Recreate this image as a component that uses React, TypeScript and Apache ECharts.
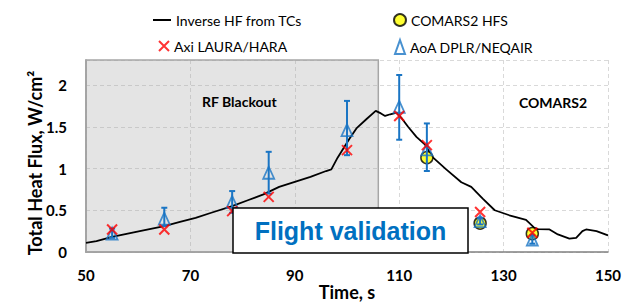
import React, { useEffect, useRef } from "react";
import * as echarts from "echarts";

const lineX = [50, 52, 55, 58, 61, 65, 68, 71, 74, 78, 81, 84, 87, 90, 93, 96, 97, 98.2, 99.3, 100.5, 101.8, 103.7, 105.5, 106.5, 107.3, 108.3, 109.5, 110.5, 111.7, 113.3, 114.9, 116.5, 119, 121.9, 123.8, 126, 128.3, 131.1, 134.3, 135.9, 136.6, 138.8, 140.4, 142.6, 143.9, 145.1, 145.8, 147.8, 150];
const lineY = [0.11, 0.13, 0.18, 0.22, 0.26, 0.31, 0.36, 0.41, 0.47, 0.55, 0.62, 0.69, 0.78, 0.84, 0.9, 0.97, 0.99, 1.13, 1.24, 1.36, 1.48, 1.59, 1.69, 1.66, 1.63, 1.65, 1.67, 1.6, 1.5, 1.38, 1.29, 1.13, 0.99, 0.835, 0.78, 0.64, 0.5, 0.44, 0.385, 0.29, 0.275, 0.27, 0.21, 0.16, 0.17, 0.25, 0.27, 0.25, 0.2];

const lauraX = [55, 65, 78, 85, 100, 110, 115.3, 125.5, 135.5];
const lauraY = [0.27, 0.27, 0.49, 0.66, 1.22, 1.63, 1.28, 0.48, 0.23];

const dplrX = [55, 65, 78, 85, 100, 110, 115.3, 125.5, 135.5];
const dplrY = [0.22, 0.4, 0.6, 0.95, 1.46, 1.74, 1.23, 0.37, 0.15];
const dplrLow = [0.17, 0.31, 0.47, 0.7, 1.16, 1.345, 0.97, 0.33, 0.1];
const dplrHigh = [0.28, 0.53, 0.73, 1.2, 1.81, 2.12, 1.54, 0.41, 0.2];

const comarsX = [115.3, 125.5, 135.5];
const comarsY = [1.13, 0.345, 0.22];

const blackoutStart = 50;
const blackoutEnd = 106;

const BLUE = "#1a75c4";
const FONT = "Lato";

export default function App() {
  const ref = useRef<HTMLDivElement>(null);
  useEffect(() => {
    if (!ref.current) return;
    const chart = echarts.init(ref.current, undefined, { renderer: "svg" });
    const crossPath = "path://M0,0L10,10M10,0L0,10";
    const legendText = { fontFamily: FONT, fontSize: 14, color: "#000" };
    chart.setOption({
      animation: false,
      backgroundColor: "#fff",
      grid: { left: 86, right: 18, top: 60, bottom: 50, containLabel: false },
      legend: [
        { data: [{ name: "Inverse HF from TCs", icon: "rect" }], left: 148, top: 8, itemWidth: 18, itemHeight: 2, textStyle: legendText, selectedMode: false },
        { data: ["COMARS2 HFS"], left: 388, top: 8, itemWidth: 12, itemHeight: 14, textStyle: legendText, selectedMode: false },
        { data: ["Axi LAURA/HARA"], left: 153, top: 34, itemWidth: 10, itemHeight: 14, textStyle: legendText, selectedMode: false },
        { data: ["AoA DPLR/NEQAIR"], left: 389, top: 34, itemWidth: 10, itemHeight: 14, textStyle: legendText, selectedMode: false },
      ],
      xAxis: {
        type: "value",
        min: 50,
        max: 150,
        interval: 20,
        name: "Time, s",
        nameLocation: "middle",
        nameGap: 31,
        nameMoveOverlap: false,
        nameTextStyle: { fontFamily: FONT, fontSize: 18, fontWeight: "bold", color: "#000" },
        axisLine: { show: true, lineStyle: { color: "#808080", width: 1.5 } },
        axisTick: { show: false },
        axisLabel: { fontFamily: FONT, fontSize: 15, fontWeight: "bold", color: "#000", margin: 15 },
        splitLine: { show: true, lineStyle: { color: "#d9d9d9", type: [4, 3], width: 1 } },
      },
      yAxis: {
        type: "value",
        min: 0,
        max: 2.3,
        interval: 0.5,
        axisLine: { show: true, lineStyle: { color: "#808080", width: 1.5 } },
        axisTick: { show: false },
        axisLabel: {
          fontFamily: FONT,
          fontSize: 15,
          fontWeight: "bold",
          color: "#000",
          margin: 19,
          formatter: (v: number) => (v > 2.05 ? "" : String(v)),
        },
        splitLine: { show: true, lineStyle: { color: "#d9d9d9", type: [4, 3], width: 1 } },
      },
      series: [
        {
          name: "Inverse HF from TCs",
          type: "line",
          data: lineX.map((x, i) => [x, lineY[i]]),
          symbol: "none",
          lineStyle: { color: "#000", width: 1.8 },
          itemStyle: { color: "#000" },
          z: 2,
        },
        {
          name: "COMARS2 HFS",
          type: "scatter",
          data: comarsX.map((x, i) => [x, comarsY[i]]),
          symbol: "circle",
          symbolSize: 12,
          itemStyle: { color: "#ffff00", borderColor: "#000", borderWidth: 1.5 },
          z: 3,
        },
        {
          name: "errbars",
          type: "custom",
          data: dplrX.map((x, i) => [x, dplrLow[i], dplrHigh[i]]),
          encode: { x: 0, y: [1, 2] },
          renderItem: (params: any, api: any) => {
            const x = api.value(0);
            const top = api.coord([x, api.value(2)]);
            const bot = api.coord([x, api.value(1)]);
            const st = { stroke: BLUE, lineWidth: 2 };
            return {
              type: "group",
              children: [
                { type: "line", shape: { x1: top[0], y1: top[1], x2: bot[0], y2: bot[1] }, style: st },
                { type: "line", shape: { x1: top[0] - 3, y1: top[1], x2: top[0] + 3, y2: top[1] }, style: st },
                { type: "line", shape: { x1: bot[0] - 3, y1: bot[1], x2: bot[0] + 3, y2: bot[1] }, style: st },
              ],
            };
          },
          z: 4,
          silent: true,
        },
        {
          name: "AoA DPLR/NEQAIR",
          type: "scatter",
          data: dplrX.map((x, i) => [x, dplrY[i]]),
          symbol: "triangle",
          symbolSize: [11, 12],
          itemStyle: { color: "rgba(255,255,255,0)", borderColor: BLUE, borderWidth: 1.8 },
          z: 5,
        },
        {
          name: "Axi LAURA/HARA",
          type: "scatter",
          data: lauraX.map((x, i) => [x, lauraY[i]]),
          symbol: crossPath,
          symbolSize: 10,
          itemStyle: { color: "rgba(255,255,255,0)", borderColor: "#ff0000", borderWidth: 2 },
          z: 6,
          markArea: {
            silent: true,
            itemStyle: { color: "rgba(166,166,166,0.3)", borderColor: "#a6a6a6", borderWidth: 1.5 },
            data: [[{ xAxis: blackoutStart, yAxis: 0 }, { xAxis: blackoutEnd, yAxis: 2.3 }]],
          },
        },
      ],
      graphic: [
        {
          type: "text",
          x: 35,
          y: 163,
          rotation: Math.PI / 2,
          style: { text: "Total Heat Flux, W/cm²", fontFamily: FONT, fontSize: 18, fontWeight: "bold", fill: "#000", align: "center", verticalAlign: "middle" },
        },
        { type: "text", left: 240 - 38, top: 94, style: { text: "RF Blackout", fontFamily: FONT, fontSize: 14, fontWeight: "bold", fill: "#000" }, z: 10 },
        { type: "text", left: 553 - 34, top: 95, style: { text: "COMARS2", fontFamily: FONT, fontSize: 14, fontWeight: "bold", fill: "#000" }, z: 10 },
        {
          type: "rect",
          shape: { x: 233, y: 208, width: 235, height: 45 },
          style: { fill: "#fff", stroke: "#000", lineWidth: 1.5 },
          z: 20,
        },
        {
          type: "text",
          x: 350.5,
          y: 231,
          style: { text: "Flight validation", fontFamily: "Liberation Sans", fontSize: 25, fontWeight: "bold", fill: "#0070c0", align: "center", verticalAlign: "middle" },
          z: 21,
        },
      ],
    });
    return () => chart.dispose();
  }, []);
  return <div ref={ref} style={{ width: 626, height: 306, position: "absolute", left: 0, top: 0 }} />;
}
